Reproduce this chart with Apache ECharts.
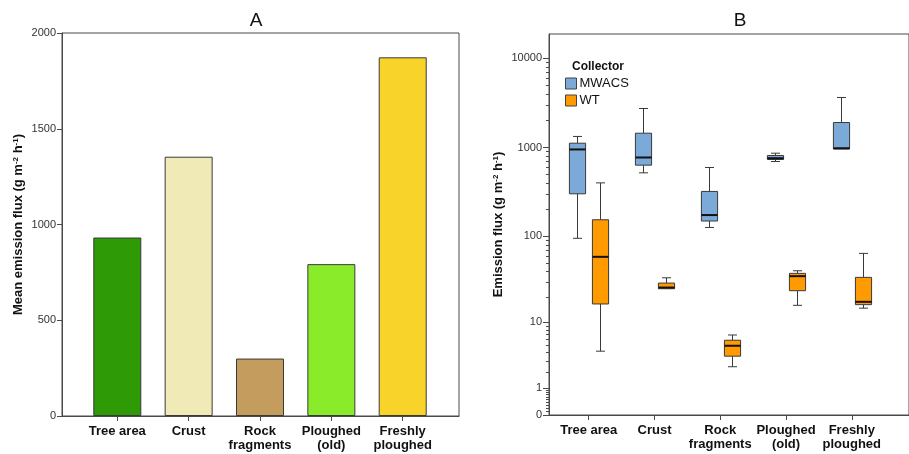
<!DOCTYPE html>
<html>
<head>
<meta charset="utf-8">
<script src="https://cdn.jsdelivr.net/npm/echarts@6/dist/echarts.min.js"></script>
<style>
html,body{margin:0;padding:0;background:#fff;}
#chart{width:909px;height:454px;}
</style>
</head>
<body>
<div id="chart"></div>
<script>
// ---------- data ----------
const categories = ['Tree area', 'Crust', 'Rock\nfragments', 'Ploughed\n(old)', 'Freshly\nploughed'];
const meanFlux = [932, 1354, 300, 793, 1873];
const barColors = ['#2E9A06', '#F0EAB7', '#C49C5D', '#8AEB2A', '#F8D42B'];
const meanTicks = [0, 500, 1000, 1500, 2000];

const collectors = ['MWACS', 'WT'];
const mwacsLow  = [95, 520, 126, 697, 955];
const mwacsQ1   = [302, 634, 149, 734, 962];
const mwacsMed  = [952, 773, 174, 759, 982];
const mwacsQ3   = [1119, 1449, 321, 814, 1909];
const mwacsHigh = [1332, 2743, 597, 864, 3647];

const wtLow  = [4.2, 25.0, 2.48, 16.0, 14.8];
const wtQ1   = [16.6, 25.1, 3.57, 23.8, 16.3];
const wtMed  = [58.5, 25.9, 4.98, 35.1, 17.6];
const wtQ3   = [154, 29.2, 5.9, 37.8, 34];
const wtHigh = [401, 33.6, 6.9, 40.5, 64];

const fluxMajorTicks = [0, 1, 10, 100, 1000, 10000];
const fluxMinorTicks = [0.1,0.2,0.3,0.4,0.5,0.6,0.7,0.8,0.9,
  2,3,4,5,6,7,8,9, 20,30,40,50,60,70,80,90,
  200,300,400,500,600,700,800,900, 2000,3000,4000,5000,6000,7000,8000,9000];
const fluxMax = 18800;

// ---------- helpers ----------
const FONT = '"Liberation Sans", Arial, sans-serif';
const tf = v => Math.log10(v + 1);           // log(x+1) scale
const untf = t => Math.round(Math.pow(10, t) - 1);
const catIdx = categories.map((c, i) => i);
const AX = '#4a4a4a';

function boxData(lo, q1, md, q3, hi) {
  return catIdx.map(i => [i, tf(lo[i]), tf(q1[i]), tf(md[i]), tf(q3[i]), tf(hi[i])]);
}

const BOX_W = 0.246;   // in category units
const CAP_HALF = 4.5;  // px
function makeRender(offset) {
  return function (params, api) {
    const x = api.value(0) + offset;
    const lo = api.coord([x, api.value(1)]);
    const q1 = api.coord([x, api.value(2)]);
    const md = api.coord([x, api.value(3)]);
    const q3 = api.coord([x, api.value(4)]);
    const hi = api.coord([x, api.value(5)]);
    const bw = api.size([BOX_W, 0])[0];
    const cx = Math.round(lo[0]) + 0.5;
    const fill = api.visual('color');
    const ln = { stroke: '#3a3a3a', lineWidth: 1 };
    const children = [];
    if (hi[1] < q3[1] - 0.5) {
      children.push({ type: 'line', shape: { x1: cx, y1: hi[1], x2: cx, y2: q3[1] }, style: ln });
      children.push({ type: 'line', shape: { x1: cx - CAP_HALF, y1: hi[1], x2: cx + CAP_HALF, y2: hi[1] }, style: ln });
    }
    if (lo[1] > q1[1] + 0.5) {
      children.push({ type: 'line', shape: { x1: cx, y1: q1[1], x2: cx, y2: lo[1] }, style: ln });
      children.push({ type: 'line', shape: { x1: cx - CAP_HALF, y1: lo[1], x2: cx + CAP_HALF, y2: lo[1] }, style: ln });
    }
    children.push({ type: 'rect', shape: { x: cx - bw / 2, y: q3[1], width: bw, height: Math.max(q1[1] - q3[1], 1) },
      style: { fill: fill, stroke: '#3a3a3a', lineWidth: 1 } });
    children.push({ type: 'line', shape: { x1: cx - bw / 2, y1: md[1], x2: cx + bw / 2, y2: md[1] },
      style: { stroke: '#111', lineWidth: 2 } });
    return { type: 'group', children: children };
  };
}

const nameRich = {
  a: { fontSize: 13, fontWeight: 'bold', color: '#111', fontFamily: FONT },
  s: { fontSize: 8, fontWeight: 'bold', color: '#111', fontFamily: FONT, verticalAlign: 'top' }
};

const chart = echarts.init(document.getElementById('chart'), null, { renderer: 'canvas' });
chart.setOption({
  animation: false,
  backgroundColor: '#fff',
  textStyle: { fontFamily: FONT },
  title: [
    { text: 'A', left: 251, top: 6, textAlign: 'center', textStyle: { fontSize: 19, fontWeight: 'normal', color: '#111', fontFamily: FONT } },
    { text: 'B', left: 735, top: 6, textAlign: 'center', textStyle: { fontSize: 19, fontWeight: 'normal', color: '#111', fontFamily: FONT } },
    { text: 'Collector', left: 567, top: 56, textStyle: { fontSize: 12, fontWeight: 'bold', color: '#111', fontFamily: FONT } }
  ],
  legend: {
    data: collectors,
    left: 565, top: 77, orient: 'vertical', itemGap: 4, itemWidth: 11, itemHeight: 11,
    padding: 0, selectedMode: false,
    icon: 'rect',
    itemStyle: { borderColor: '#444', borderWidth: 1 },
    textStyle: { fontSize: 13, color: '#111', fontFamily: FONT, padding: [0, 0, 0, -2] }
  },
  grid: [
    { left: 62, right: 450, top: 33, bottom: 38, show: true, borderColor: AX, borderWidth: 1, backgroundColor: 'transparent' },
    { left: 549, right: -30, top: 34, bottom: 39, show: true, borderColor: AX, borderWidth: 1, backgroundColor: 'transparent' }
  ],
  xAxis: [
    {
      gridIndex: 0, type: 'value', min: -0.775, max: 4.789,
      axisLine: { show: true, onZero: false, lineStyle: { color: AX } },
      splitLine: { show: false },
      axisTick: { show: true, length: 5, inside: false, customValues: catIdx, lineStyle: { color: AX } },
      axisLabel: { show: true, customValues: catIdx, formatter: v => categories[Math.round(v)],
        fontSize: 13, fontWeight: 'bold', color: '#111', lineHeight: 14, margin: 8, fontFamily: FONT }
    },
    {
      gridIndex: 1, type: 'value', min: -0.604, max: 4.87,
      axisLine: { show: true, onZero: false, lineStyle: { color: AX } },
      splitLine: { show: false },
      axisTick: { show: true, length: 5, inside: false, customValues: catIdx, lineStyle: { color: AX } },
      axisLabel: { show: true, customValues: catIdx, formatter: v => categories[Math.round(v)],
        fontSize: 13, fontWeight: 'bold', color: '#111', lineHeight: 14, margin: 8, fontFamily: FONT }
    }
  ],
  yAxis: [
    {
      gridIndex: 0, type: 'value', min: 0, max: 2000, position: 'left',
      axisLine: { show: true, onZero: false, lineStyle: { color: AX } },
      splitLine: { show: false },
      axisTick: { show: true, length: 5, customValues: meanTicks, lineStyle: { color: AX } },
      axisLabel: { customValues: meanTicks, formatter: v => String(Math.round(v)),
        fontSize: 11, color: '#333', margin: 6, fontFamily: FONT },
      name: '{a|Mean emission flux (g m}{s|-2}{a| h}{s|-1}{a|)}',
      nameLocation: 'middle', nameGap: 37,
      nameTextStyle: { rich: nameRich }
    },
    {
      gridIndex: 1, type: 'value', min: 0, max: tf(fluxMax), position: 'left',
      axisLine: { show: true, onZero: false, lineStyle: { color: AX } },
      splitLine: { show: false },
      axisTick: { show: true, length: 6, customValues: fluxMajorTicks.map(tf), lineStyle: { color: AX } },
      axisLabel: { customValues: fluxMajorTicks.map(tf), formatter: v => String(untf(v)),
        fontSize: 11, color: '#333', margin: 7, fontFamily: FONT },
      name: '{a|Emission flux (g m}{s|-2}{a| h}{s|-1}{a|)}',
      nameLocation: 'middle', nameGap: 44,
      nameTextStyle: { rich: nameRich }
    },
    {
      gridIndex: 1, type: 'value', min: 0, max: tf(fluxMax), position: 'left', offset: 0,
      axisLine: { show: false, onZero: false },
      splitLine: { show: false },
      axisTick: { show: true, length: 3, customValues: fluxMinorTicks.map(tf), lineStyle: { color: AX } },
      axisLabel: { show: false }
    }
  ],
  series: [
    {
      type: 'bar', xAxisIndex: 0, yAxisIndex: 0, barWidth: 48,
      data: meanFlux.map((v, i) => ({ value: [i, v], itemStyle: { color: barColors[i] } })),
      itemStyle: { borderColor: '#3a3a3a', borderWidth: 1 }
    },
    {
      name: 'MWACS', type: 'custom', xAxisIndex: 1, yAxisIndex: 1,
      itemStyle: { color: '#7BAAD8' },
      renderItem: makeRender(-0.171),
      encode: { x: 0, y: [1, 2, 3, 4, 5] },
      data: boxData(mwacsLow, mwacsQ1, mwacsMed, mwacsQ3, mwacsHigh)
    },
    {
      name: 'WT', type: 'custom', xAxisIndex: 1, yAxisIndex: 1,
      itemStyle: { color: '#FF9A00' },
      renderItem: makeRender(0.174),
      encode: { x: 0, y: [1, 2, 3, 4, 5] },
      data: boxData(wtLow, wtQ1, wtMed, wtQ3, wtHigh)
    }
  ]
});
</script>
</body>
</html>
